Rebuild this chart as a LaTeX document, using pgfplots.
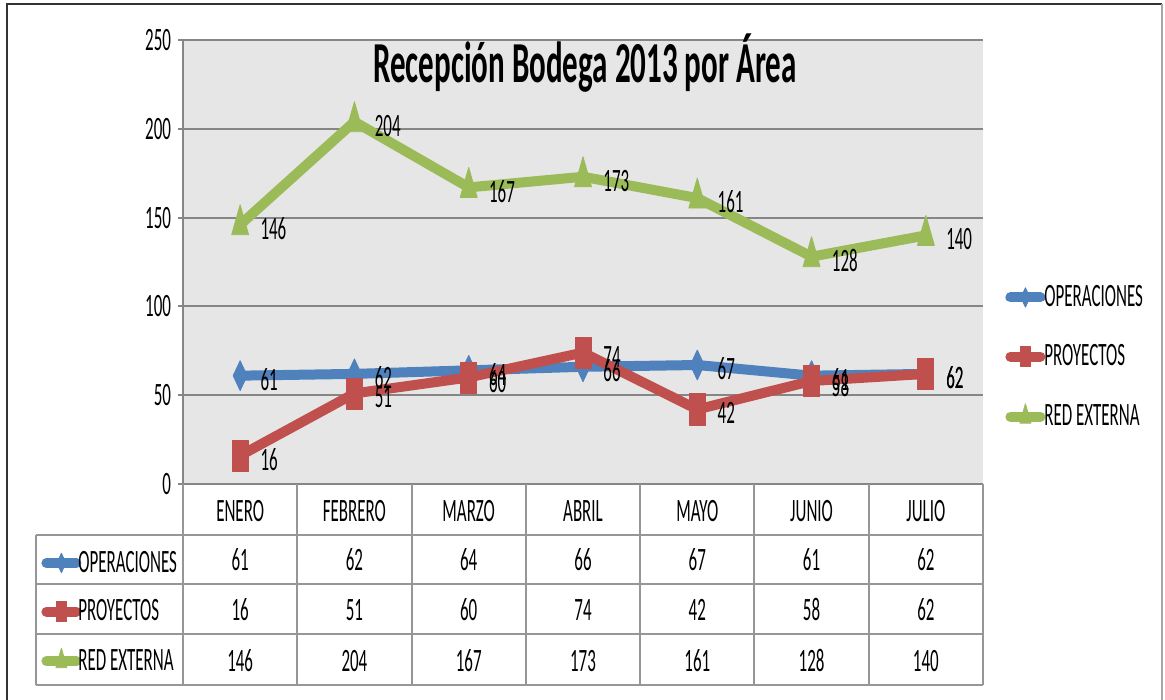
\documentclass[border=0pt]{standalone}
\usepackage{pgfplots}
\usepackage{pgfplotstable}
\pgfplotsset{compat=1.18}
\usepackage{fontspec}
\setmainfont{Carlito}[FakeStretch=0.52]
\newfontfamily\titlefam{Carlito}[FakeStretch=0.535]
\newcommand\tickfont{\fontsize{16.3}{18}\selectfont}
\newcommand\titlefont{\titlefam\fontsize{29}{32}\selectfont\bfseries}
\definecolor{opblue}{RGB}{79,129,189}
\definecolor{prred}{RGB}{192,80,77}
\definecolor{regreen}{RGB}{155,187,89}
\definecolor{plotbg}{RGB}{230,230,230}
\definecolor{gridgray}{RGB}{134,134,134}
\definecolor{tabgray}{RGB}{150,150,150}

\pgfplotstableread{
x op pr re
0 61 16 146
1 62 51 204
2 64 60 167
3 66 74 173
4 67 42 161
5 61 58 128
6 62 62 140
}\data

\pgfplotsset{
  legimg/.style={legend image code/.code={%
    \draw[mark repeat=2,mark phase=2,line cap=round,every mark/.append style={scale=0.65}]
      plot coordinates {(0pt,0pt) (7.5pt,0pt) (15pt,0pt)};}},
  opstyle/.style={color=opblue, line width=5pt, line join=round, mark=diamond*, mark size=4.67pt, mark options={solid, line width=0.4pt, yscale=1.6}},
  prstyle/.style={color=prred, line width=5pt, line join=round, mark=square*, mark size=4pt, mark options={solid, line width=0.4pt, yscale=1.94}},
  restyle/.style={color=regreen, line width=5pt, line join=round, mark=triangle*, mark size=4.9pt, mark options={solid, line width=0.4pt, yscale=2.04}},
  lblstyle/.style={draw=none, mark=none, forget plot, nodes near coords,
    nodes near coords style={anchor=west, inner sep=0pt, xshift=10pt, yshift=-2pt, font=\tickfont, text=black}},
}

\begin{document}
\begin{tikzpicture}
\useasboundingbox (0pt,0pt) rectangle (582.5pt,-350pt);
\fill[white] (0pt,0pt) rectangle (582.5pt,-350pt);
\begin{axis}[
  at={(91.5pt,-242pt)}, anchor=south west,
  scale only axis, width=400pt, height=222pt,
  xmin=-0.5, xmax=6.5, ymin=0, ymax=250,
  xtick=\empty, ytick={0,50,...,250},
  axis lines*=left, axis line style={-, draw=gridgray, line width=1pt},
  axis background/.style={fill=plotbg},
  ymajorgrids, grid style={draw=gridgray, line width=1pt},
  tick align=outside, major tick length=2.5pt, tick style={draw=gridgray, line width=1pt},
  yticklabel style={font=\tickfont},
  /pgf/number format/assume math mode=true,
  clip=false,
  legimg,
  legend style={at={(1.0275,0.286)}, anchor=west, draw=none, fill=none, inner sep=0pt,
    font=\tickfont, row sep=17.5pt, column sep=-0.5pt, nodes={inner sep=0pt}},
  legend cell align=left,
]
\addplot[opstyle] table[x=x,y=op]{\data}; \addlegendentry{OPERACIONES}
\addplot[prstyle] table[x=x,y=pr]{\data}; \addlegendentry{PROYECTOS}
\addplot[restyle] table[x=x,y=re]{\data}; \addlegendentry{RED EXTERNA}
\addplot[lblstyle] table[x=x,y=op]{\data};
\addplot[lblstyle] table[x=x,y=pr]{\data};
\addplot[lblstyle] table[x=x,y=re]{\data};
\end{axis}
\begin{axis}[
  at={(91.5pt,-242pt)}, anchor=south west,
  scale only axis, width=400pt, height=222pt,
  xmin=0, xmax=1, ymin=0, ymax=1, hide axis,
  legimg,
  legend style={at={(-0.1775,-0.2883)}, anchor=west, draw=none, fill=none, inner sep=0pt,
    font=\tickfont, row sep=12.25pt, column sep=-1.5pt, nodes={inner sep=0pt}},
  legend cell align=left,
]
\addlegendimage{opstyle} \addlegendentry{OPERACIONES}
\addlegendimage{prstyle} \addlegendentry{PROYECTOS}
\addlegendimage{restyle} \addlegendentry{RED EXTERNA}
\end{axis}
% title
\node[font=\titlefont, anchor=base, inner sep=0pt] at (292.5pt,-41.5pt) {Recepción Bodega 2013 por Área};
% data table grid
\draw[tabgray, line width=1pt] (18pt,-267.5pt) -- (491.5pt,-267.5pt);
\draw[tabgray, line width=1pt] (18pt,-292pt) -- (491.5pt,-292pt);
\draw[tabgray, line width=1pt] (18pt,-317pt) -- (491.5pt,-317pt);
\draw[tabgray, line width=1pt] (18pt,-342.5pt) -- (491.5pt,-342.5pt);
\draw[tabgray, line width=1pt] (18pt,-267.5pt) -- (18pt,-342.5pt);
\foreach \i in {0,...,7}{
  \draw[tabgray, line width=1pt] ({91.5pt+57.142857pt*\i},-242pt) -- ({91.5pt+57.142857pt*\i},-342.5pt);
}
\foreach \m [count=\i from 0] in {ENERO,FEBRERO,MARZO,ABRIL,MAYO,JUNIO,JULIO}{
  \node[anchor=base, font=\tickfont, inner sep=0pt] at ({120.07pt+57.142857pt*\i},-260.5pt) {\m};
}
\foreach \i in {0,...,6}{
  \pgfplotstablegetelem{\i}{op}\of\data
  \node[anchor=base, font=\tickfont, inner sep=0pt] at ({120.07pt+57.142857pt*\i},-285.25pt) {\pgfplotsretval};
  \pgfplotstablegetelem{\i}{pr}\of\data
  \node[anchor=base, font=\tickfont, inner sep=0pt] at ({120.07pt+57.142857pt*\i},-310.25pt) {\pgfplotsretval};
  \pgfplotstablegetelem{\i}{re}\of\data
  \node[anchor=base, font=\tickfont, inner sep=0pt] at ({120.07pt+57.142857pt*\i},-335.5pt) {\pgfplotsretval};
}
% outer frame
\draw[line width=1pt, black!80] (3.5pt,-350pt) -- (3.5pt,-2pt) -- (581pt,-2pt);
\draw[line width=0.75pt, black!35] (581pt,-2pt) -- (581pt,-350pt);
\end{tikzpicture}
\end{document}
